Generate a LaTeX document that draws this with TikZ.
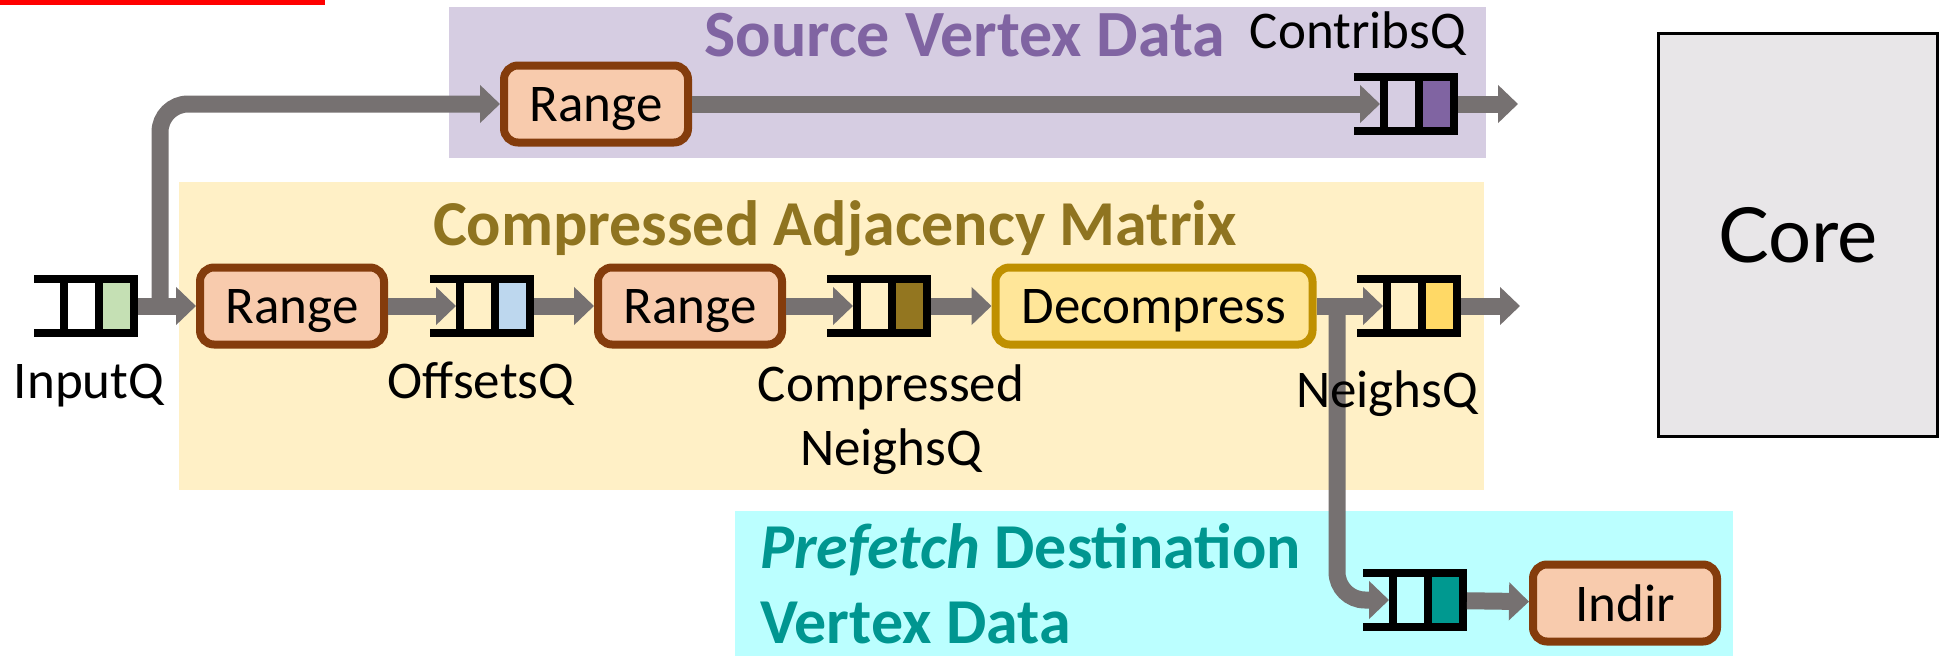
\documentclass[tikz,border=0pt]{standalone}
\usepackage{fontspec}
\setmainfont{Carlito}
\newfontfamily\corefont{Lato}
\usetikzlibrary{arrows.meta}

\definecolor{arrowgray}{HTML}{767171}
\definecolor{rangebrown}{HTML}{843C0C}
\definecolor{rangefill}{HTML}{F8CBAD}
\definecolor{decompgold}{HTML}{BF9000}
\definecolor{decompfill}{HTML}{FFE699}
\definecolor{srcbg}{HTML}{D6CDE2}
\definecolor{srctext}{HTML}{8064A2}
\definecolor{adjbg}{HTML}{FFF0C6}
\definecolor{adjtext}{HTML}{8F7420}
\definecolor{dstbg}{HTML}{BBFFFF}
\definecolor{dsttext}{HTML}{009690}
\definecolor{corefill}{HTML}{E8E6E8}
\definecolor{inslot}{HTML}{C5E0B4}
\definecolor{offslot}{HTML}{BDD7EE}
\definecolor{cmpslot}{HTML}{937620}
\definecolor{neighslot}{HTML}{FFD966}
\definecolor{contslot}{HTML}{8064A2}
\definecolor{prefslot}{HTML}{009990}

% queue: name, left x, centre y, colour of the filled slot
\newcommand{\drawqueue}[4]{%
  \node[qbox] (#1) at (#2+52,#3) {};
  \coordinate (#1-in) at (#2+26,#3);
  \fill (#2,#3-31) rectangle (#2+104,#3-23);
  \fill (#2,#3+23) rectangle (#2+104,#3+31);
  \fill (#2+26,#3-31) rectangle (#2+34,#3+31);
  \fill (#2+61,#3-31) rectangle (#2+69,#3+31);
  \fill[#4] (#2+69,#3-23) rectangle (#2+96,#3+23);
  \fill (#2+96,#3-31) rectangle (#2+104,#3+31);
}

\begin{document}
\begin{tikzpicture}[x=1pt, y=-1pt,
  qbox/.style={rectangle, inner sep=0, outer sep=0, minimum width=104pt, minimum height=62pt},
  unit/.style={rectangle, draw=rangebrown, fill=rangefill, line width=8pt, rounded corners=14pt,
    minimum width=184pt, minimum height=77pt, inner sep=0, text depth=0pt, font=\fontsize{53}{64}\selectfont},
  flow/.style={draw=arrowgray, line width=17pt, -{Triangle[width=37pt,length=20pt]}},
  lbl/.style={inner sep=0, font=\fontsize{53}{64}\selectfont},
  title/.style={inner sep=0, font=\bfseries\fontsize{64}{75}\selectfont}]
\useasboundingbox (0,0) rectangle (1947,656);
\fill[red] (0,0) rectangle (325,5);

\fill[srcbg] (449,7) rectangle (1486,158);
\fill[adjbg] (179,182) rectangle (1484,490);
\fill[dstbg] (735,511) rectangle (1733,656);

\node[title, text=srctext, anchor=base, font=\bfseries\fontsize{66}{75}\selectfont] (srctitle) at (965,56) {Source Vertex Data};
\node[title, text=adjtext, anchor=base] (adjtitle) at (835,245) {Compressed Adjacency Matrix};
\node[title, text=dsttext, anchor=base west] (dsttitle1) at (760,568) {\textit{Prefetch} Destination};
\node[title, text=dsttext, anchor=base west] (dsttitle2) at (760,643) {Vertex Data};

\node[unit] (rangeA) at (596,104) {Range};
\node[unit] (rangeB) at (292,306) {Range};
\node[unit] (rangeC) at (690,306) {Range};
\node[unit, draw=decompgold, fill=decompfill, minimum width=317pt] (decomp) at (1154,306) {Decompress};
\node[unit] (indir) at (1625,603) {Indir};
\node[draw, line width=3.5pt, fill=corefill, minimum width=279pt, minimum height=403pt,
  font=\corefont\fontsize{76}{90}\selectfont] (core) at (1798,235) {Core};

\drawqueue{inq}{34}{306}{inslot}
\drawqueue{offq}{430}{306}{offslot}
\drawqueue{cmpq}{827}{306}{cmpslot}
\drawqueue{neighq}{1357}{306}{neighslot}
\drawqueue{contq}{1354}{104}{contslot}
\drawqueue{prefq}{1363}{600}{prefslot}

\coordinate (split1) at (160,306);
\coordinate (split2) at (1337,306);
\coordinate (contout) at (1518,104);
\coordinate (neighout) at (1520,306);

\draw[flow] (inq) -- (rangeB);
\draw[flow, rounded corners=28pt] (split1) |- (rangeA);
\draw[flow] (rangeB) -- (offq-in);
\draw[flow] (offq) -- (rangeC);
\draw[flow] (rangeC) -- (cmpq-in);
\draw[flow] (cmpq) -- (decomp);
\draw[flow] (decomp) -- (neighq-in);
\draw[flow] (neighq) -- (neighout);
\draw[flow] (rangeA) -- (contq-in);
\draw[flow] (contq) -- (contout);
\draw[flow, rounded corners=28pt] (split2) |- (prefq-in);
\draw[flow] (prefq) -- (indir);

\node[lbl, anchor=base] (inlbl) at (89,398) {InputQ};
\node[lbl, anchor=base] (offlbl) at (481,398) {OffsetsQ};
\node[lbl, anchor=base] (cmplbl1) at (891,401) {Compressed};
\node[lbl, anchor=base] (cmplbl2) at (891,465) {NeighsQ};
\node[lbl, anchor=base] (neighlbl) at (1387,407) {NeighsQ};
\node[lbl, anchor=base east] (contlbl) at (1466,48) {ContribsQ};
\end{tikzpicture}
\end{document}
